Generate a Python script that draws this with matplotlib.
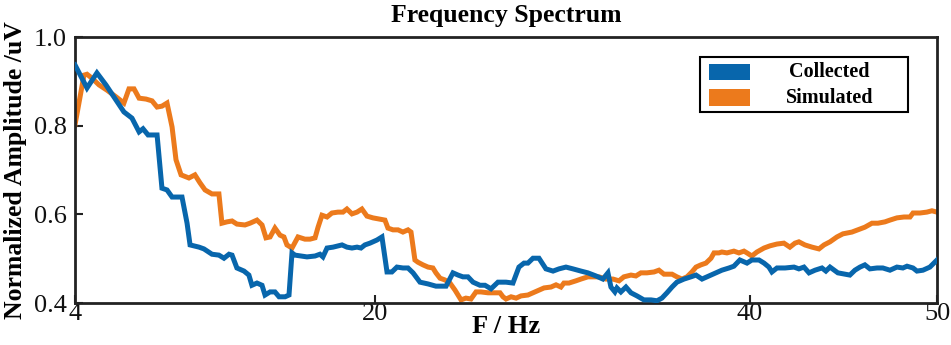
import matplotlib
matplotlib.use("Agg")
import matplotlib.pyplot as plt
from matplotlib.patches import Rectangle

# ---------------- data ----------------
freq_collected = [4.00, 4.64, 5.17, 5.65, 6.61, 7.04, 7.42, 7.63, 7.90, 8.38, 8.64, 8.91, 9.18, 9.71,
                  9.98, 10.14, 10.62, 10.88, 11.31, 11.68, 11.95, 12.22, 12.38, 12.64, 13.02, 13.28,
                  13.44, 13.71, 13.98, 14.14, 14.41, 14.67, 14.89, 15.21, 15.42, 15.58, 15.74, 16.38,
                  16.81, 17.07, 17.23, 17.45, 17.77, 18.25, 18.51, 18.78, 19.05, 19.26, 19.47, 19.74,
                  20.11, 20.38, 20.65, 20.91, 21.18, 21.50, 21.77, 22.04, 22.41, 22.84, 23.26, 23.80,
                  24.17, 24.44, 24.70, 24.97, 25.24, 25.61, 25.88, 26.20, 26.57, 27.00, 27.37, 27.69,
                  27.96, 28.17, 28.44, 28.76, 29.13, 29.51, 29.83, 30.20, 30.57, 31.00, 31.37, 31.80,
                  32.17, 32.44, 32.60, 32.81, 32.92, 33.13, 33.40, 33.67, 33.99, 34.36, 34.74, 35.06,
                  35.32, 35.59, 35.86, 36.12, 36.50, 36.87, 37.14, 37.46, 37.83, 38.20, 38.52, 38.90,
                  39.16, 39.48, 39.86, 40.12, 40.50, 40.77, 41.03, 41.19, 41.46, 41.89, 42.37, 42.63,
                  42.90, 43.17, 43.49, 43.86, 44.07, 44.29, 44.71, 45.35, 45.62, 45.89, 46.15, 46.42,
                  46.80, 47.11, 47.49, 47.86, 48.18, 48.40, 48.72, 48.93, 49.25, 49.62, 50.00]
amp_collected = [0.937, 0.885, 0.919, 0.892, 0.831, 0.817, 0.786, 0.793, 0.779, 0.779, 0.659, 0.655,
                 0.639, 0.639, 0.580, 0.531, 0.526, 0.522, 0.510, 0.508, 0.501, 0.510, 0.508, 0.479,
                 0.472, 0.463, 0.440, 0.445, 0.440, 0.418, 0.425, 0.425, 0.414, 0.414, 0.418, 0.513,
                 0.508, 0.504, 0.506, 0.510, 0.504, 0.524, 0.526, 0.531, 0.526, 0.524, 0.526, 0.524,
                 0.531, 0.535, 0.542, 0.549, 0.470, 0.470, 0.481, 0.479, 0.479, 0.468, 0.447, 0.443,
                 0.438, 0.438, 0.468, 0.463, 0.459, 0.459, 0.447, 0.440, 0.440, 0.432, 0.447, 0.447,
                 0.445, 0.481, 0.490, 0.490, 0.501, 0.501, 0.477, 0.472, 0.477, 0.481, 0.477, 0.472,
                 0.468, 0.461, 0.454, 0.468, 0.436, 0.425, 0.434, 0.425, 0.436, 0.423, 0.416, 0.407,
                 0.407, 0.405, 0.411, 0.423, 0.436, 0.447, 0.454, 0.459, 0.463, 0.454, 0.461, 0.468,
                 0.474, 0.479, 0.483, 0.497, 0.490, 0.497, 0.497, 0.490, 0.481, 0.470, 0.479, 0.479,
                 0.481, 0.477, 0.481, 0.468, 0.474, 0.479, 0.472, 0.481, 0.468, 0.463, 0.474, 0.481,
                 0.486, 0.477, 0.479, 0.479, 0.474, 0.481, 0.479, 0.483, 0.479, 0.472, 0.474, 0.481,
                 0.497]

freq_simulated = [4.00, 4.48, 4.64, 4.91, 5.28, 5.71, 6.19, 6.61, 6.88, 7.15, 7.42, 7.79, 8.11, 8.38,
                  8.64, 8.91, 9.18, 9.39, 9.66, 10.08, 10.40, 10.67, 10.94, 11.31, 11.68, 11.84,
                  12.11, 12.38, 12.64, 13.07, 13.34, 13.71, 13.98, 14.19, 14.41, 14.67, 14.94, 15.15,
                  15.31, 15.58, 15.90, 16.27, 16.54, 16.81, 16.97, 17.18, 17.45, 17.71, 18.03, 18.30,
                  18.51, 18.78, 19.05, 19.31, 19.58, 19.90, 20.27, 20.54, 20.70, 20.97, 21.24, 21.50,
                  21.77, 21.93, 22.14, 22.30, 22.57, 22.84, 23.10, 23.26, 23.48, 23.74, 24.01, 24.28,
                  24.44, 24.60, 24.86, 25.13, 25.40, 25.66, 26.04, 26.41, 26.68, 26.84, 27.00, 27.27,
                  27.54, 27.80, 28.17, 28.44, 28.76, 29.03, 29.40, 29.67, 29.93, 30.09, 30.36, 30.73,
                  31.00, 31.37, 31.69, 31.96, 32.33, 32.71, 33.03, 33.29, 33.67, 33.93, 34.20, 34.52,
                  34.90, 35.16, 35.43, 35.86, 36.12, 36.39, 36.66, 36.92, 37.14, 37.40, 37.67, 37.94,
                  38.10, 38.36, 38.52, 38.79, 39.16, 39.43, 39.70, 39.86, 40.12, 40.39, 40.77, 41.09,
                  41.46, 41.83, 42.15, 42.42, 42.63, 42.95, 43.33, 43.70, 43.97, 44.29, 44.66, 44.98,
                  45.46, 45.78, 46.15, 46.53, 46.85, 47.22, 47.49, 47.86, 48.24, 48.56, 48.72, 49.09,
                  49.46, 49.73, 50.00]
amp_simulated = [0.802, 0.914, 0.916, 0.907, 0.892, 0.880, 0.865, 0.851, 0.883, 0.883, 0.862, 0.860,
                 0.856, 0.842, 0.844, 0.851, 0.797, 0.723, 0.689, 0.682, 0.689, 0.671, 0.655, 0.646,
                 0.646, 0.580, 0.583, 0.585, 0.578, 0.576, 0.580, 0.587, 0.576, 0.547, 0.549, 0.569,
                 0.553, 0.549, 0.531, 0.524, 0.549, 0.544, 0.544, 0.547, 0.571, 0.598, 0.594, 0.603,
                 0.605, 0.605, 0.612, 0.601, 0.605, 0.612, 0.596, 0.592, 0.589, 0.587, 0.569, 0.565,
                 0.565, 0.560, 0.565, 0.560, 0.497, 0.492, 0.486, 0.481, 0.479, 0.468, 0.456, 0.452,
                 0.445, 0.429, 0.418, 0.407, 0.411, 0.409, 0.425, 0.425, 0.423, 0.423, 0.423, 0.414,
                 0.409, 0.414, 0.411, 0.416, 0.418, 0.423, 0.429, 0.434, 0.436, 0.441, 0.436, 0.445,
                 0.445, 0.450, 0.454, 0.459, 0.459, 0.459, 0.454, 0.454, 0.450, 0.459, 0.463, 0.461,
                 0.468, 0.468, 0.470, 0.474, 0.465, 0.465, 0.459, 0.454, 0.459, 0.470, 0.481, 0.486,
                 0.490, 0.501, 0.513, 0.513, 0.515, 0.513, 0.517, 0.513, 0.517, 0.513, 0.506, 0.515,
                 0.524, 0.529, 0.533, 0.535, 0.526, 0.535, 0.538, 0.531, 0.526, 0.522, 0.531, 0.538,
                 0.549, 0.556, 0.560, 0.565, 0.571, 0.580, 0.580, 0.583, 0.587, 0.592, 0.594, 0.594,
                 0.603, 0.603, 0.605, 0.608, 0.605]

series_labels = ["Collected", "Simulated"]
x_ticks = [4, 20, 40, 50]
y_ticks = [0.4, 0.6, 0.8, 1.0]
y_tick_labels = ["0.4", "0.6", "0.8", "1.0"]

title_text = "Frequency Spectrum"
x_label = "F / Hz"
y_label = "Normalized Amplitude /uV"

# ---------------- style ----------------
c_blue = "#0866AC"
c_orange = "#EC7A1C"
frame_c = "#222222"
serif = ["Liberation Serif", "DejaVu Serif"]

plt.rcParams["font.family"] = serif

fig = plt.figure(figsize=(9.51, 3.45), dpi=100)
ax = fig.add_axes([75 / 951, 42 / 345, 862 / 951, 266 / 345])

ax.plot(freq_collected, amp_collected, color=c_blue, lw=3.6, solid_joinstyle="miter", zorder=3)
ax.plot(freq_simulated, amp_simulated, color=c_orange, lw=3.6, solid_joinstyle="miter", zorder=2)

ax.set_xlim(4, 50)
ax.set_ylim(0.4, 1.0)
ax.set_xticks(x_ticks)
ax.set_xticklabels([str(t) for t in x_ticks])
ax.set_yticks(y_ticks)
ax.set_yticklabels(y_tick_labels)
ax.tick_params(direction="in", length=6, width=1.5, color=frame_c, labelsize=19,
               labelcolor="#111111", top=False, right=False)
ax.tick_params(axis="x", pad=0)
ax.tick_params(axis="y", pad=6)
for s in ax.spines.values():
    s.set_linewidth(2)
    s.set_color(frame_c)

ax.set_title(title_text, fontsize=18.5, fontweight="bold", pad=11)
ax.set_xlabel(x_label, fontsize=19, fontweight="bold", labelpad=-7)
ax.set_ylabel(y_label, fontsize=18.5, fontweight="bold", labelpad=5)

# legend box (axes coordinates)
ax.add_patch(Rectangle((0.725, 0.718), 0.241, 0.207, transform=ax.transAxes,
                       facecolor="white", edgecolor="black", lw=1.5, zorder=5))
for (y0, col, lab) in [(0.838, c_blue, series_labels[0]), (0.741, c_orange, series_labels[1])]:
    ax.add_patch(Rectangle((0.736, y0), 0.047, 0.062, transform=ax.transAxes,
                           facecolor=col, edgecolor="none", zorder=6))
    ax.text(0.875, y0 + 0.031, lab, transform=ax.transAxes, ha="center", va="center",
            fontsize=14.5, fontweight="bold", zorder=7)

fig.savefig("out.png", dpi=100)
